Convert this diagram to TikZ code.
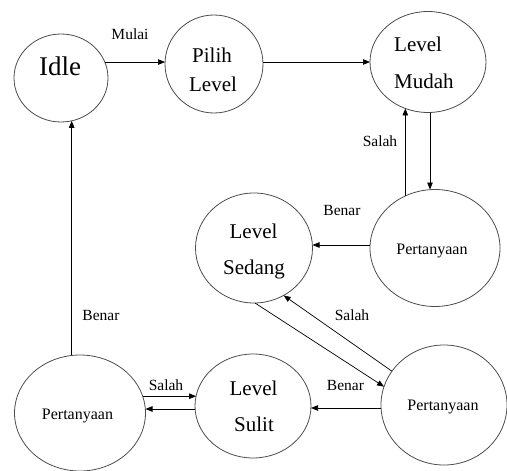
\documentclass[tikz,border=0pt]{standalone}
\usepackage{fontspec}
\setmainfont{Liberation Serif}
\newfontfamily\tnr{Liberation Serif}
\usetikzlibrary{shapes.geometric,arrows.meta}
\begin{document}
\begin{tikzpicture}[x=1pt,y=-1pt,
  state/.style={draw=black!70,line width=0.8pt,ellipse,inner sep=0pt,outer sep=0pt},
  conn/.style={line width=0.7pt,-{Triangle[length=7pt,width=5.5pt]}},
  big/.style={font=\tnr\fontsize{27}{27}\selectfont,anchor=base,inner sep=0pt},
  mid/.style={font=\tnr\fontsize{21}{21}\selectfont,anchor=base,inner sep=0pt},
  qtxt/.style={font=\tnr\fontsize{16}{16}\selectfont,anchor=base,inner sep=0pt},
  lbl/.style={font=\tnr\fontsize{15.5}{15.5}\selectfont,anchor=base,inner sep=0pt}]
\useasboundingbox (0,0) rectangle (507,471);
% states
\node[state,minimum width=94pt,minimum height=88pt] (idle) at (61,78) {};
\node[state,minimum width=98pt,minimum height=98pt] (pilih) at (214,64) {};
\node[state,minimum width=116pt,minimum height=101pt] (mudah) at (428,62) {};
\node[state,minimum width=130pt,minimum height=117pt] (pert1) at (435,248) {};
\node[state,minimum width=117pt,minimum height=110pt] (sedang) at (254,248) {};
\node[state,minimum width=126pt,minimum height=120pt] (pert2) at (444,405) {};
\node[state,minimum width=116pt,minimum height=104pt] (sulit) at (253,406) {};
\node[state,minimum width=131pt,minimum height=116pt] (pert3) at (80,413) {};
% texts
\node[big] (tidle) at (60,75) {Idle};
\node[mid] (tpilih1) at (212,63) {Pilih};
\node[mid] (tpilih2) at (213,92) {Level};
\node[mid,anchor=base west] (tmudah1) at (394,52) {Level};
\node[mid,anchor=base west] (tmudah2) at (394,88) {Mudah};
\node[mid] (tsedang1) at (253.5,238) {Level};
\node[mid] (tsedang2) at (254,274) {Sedang};
\node[mid] (tsulit1) at (253.5,395) {Level};
\node[mid] (tsulit2) at (254,431.5) {Sulit};
\node[qtxt] (tp1) at (432,254) {Pertanyaan};
\node[qtxt] (tp2) at (443,410) {Pertanyaan};
\node[qtxt] (tp3) at (77.5,419) {Pertanyaan};
% connectors
\draw[conn] (idle.20.1) -- (idle.20.1 -| pilih.west);
\draw[conn] (pilih.east |- mudah.west) -- (mudah.west);
\draw[conn] ([xshift=2pt]mudah.south) -- ([xshift=2pt]mudah.south |- pert1.north);
\draw[conn] (mudah.244.8 |- pert1.119) -- (mudah.244.8);
\draw[conn] ([yshift=3pt]pert1.west) -- ([yshift=3pt]pert1.west -| sedang.east);
\draw[conn] (sedang.271) -- (pert2.163);
\draw[conn] (pert2.147) -- (sedang.302.2);
\draw[conn] ([yshift=-3pt]pert2.west) -- ([yshift=-3pt]pert2.west -| sulit.east);
\draw[conn] (pert3.15.2) -- (pert3.15.2 -| sulit.170);
\draw[conn] ([yshift=-3pt]sulit.west) -- ([yshift=-3pt]sulit.west -| pert3.east);
\draw[conn] (idle.284.4 |- pert3.97.9) -- (idle.284.4);
% labels
\node[lbl] (lmulai) at (130,39.3) {Mulai};
\node[lbl] (lsalah1) at (380,146) {Salah};
\node[lbl] (lbenar1) at (342,215) {Benar};
\node[lbl] (lsalah2) at (352,320) {Salah};
\node[lbl] (lbenar2) at (345.5,390) {Benar};
\node[lbl] (lsalah3) at (166,390) {Salah};
\node[lbl] (lbenar3) at (101,320) {Benar};
\end{tikzpicture}
\end{document}
